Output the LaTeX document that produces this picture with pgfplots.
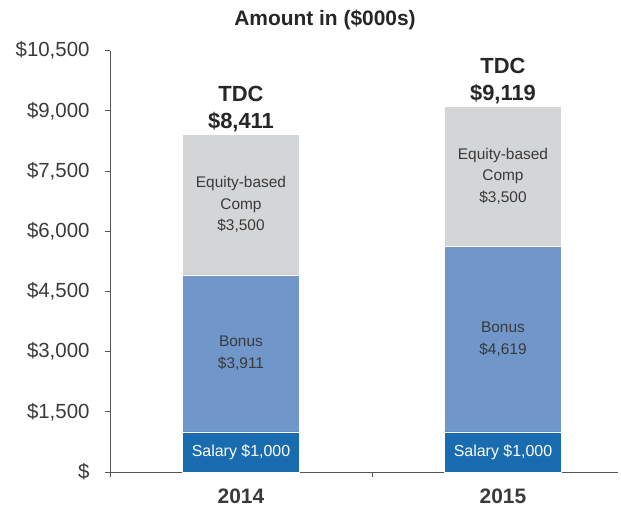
\documentclass[border=0pt]{standalone}
\usepackage{pgfplots}
\pgfplotsset{compat=1.18}
\usepackage{fontspec}
\setmainfont{Liberation Sans}
\usetikzlibrary{calc}
\definecolor{salary}{HTML}{1A6CB0}
\definecolor{bonus}{HTML}{7096CA}
\definecolor{equity}{HTML}{D4D5D7}
\definecolor{txt}{HTML}{3A3A3A}
\definecolor{axcol}{HTML}{555555}
\begin{document}
\begin{tikzpicture}
\begin{axis}[name=ax, scale only axis, width=508bp, height=421.4bp,
  xmin=-0.5, xmax=1.439, ymin=0, ymax=10500,
  ybar stacked, bar width=117bp,
  axis x line=bottom, axis y line=left,
  axis line style={-, draw=axcol, line width=0.9pt},
  scaled y ticks=false,
  ytick={0,1500,3000,4500,6000,7500,9000,10500},
  yticklabels={\$,{\$1,500},{\$3,000},{\$4,500},{\$6,000},{\$7,500},{\$9,000},{\$10,500}},
  xtick={-0.5,0.5,1.5}, xticklabels={},
  extra x ticks={0,1}, extra x tick labels={2014,2015},
  extra x tick style={major tick length=0pt, tick label style={font=\fontsize{21}{24}\selectfont\bfseries, text=txt, yshift=-13bp}},
  tick align=outside, major tick length=5bp,
  tick style={draw=axcol, line width=0.9pt},
  y tick label style={font=\fontsize{20.5}{24}\selectfont, text=txt, xshift=-12bp},
  clip=false,
]
\addplot[fill=salary, draw=white, line width=0.6pt] coordinates {(0,1000) (1,1000)};
\addplot[fill=bonus, draw=white, line width=0.6pt] coordinates {(0,3911) (1,4619)};
\addplot[fill=equity, draw=white, line width=0.6pt] coordinates {(0,3500) (1,3500)};
\coordinate (s0) at (axis cs:0,500);
\coordinate (s1) at (axis cs:1,500);
\coordinate (b0) at (axis cs:0,2955.5);
\coordinate (b1) at (axis cs:1,3309.5);
\coordinate (e0) at (axis cs:0,6661);
\coordinate (e1) at (axis cs:1,7369);
\coordinate (t0) at (axis cs:0,8411);
\coordinate (t1) at (axis cs:1,9119);
\end{axis}
\node[text=white, font=\fontsize{16}{19}\selectfont] at (s0) {Salary \$1,000};
\node[text=white, font=\fontsize{16}{19}\selectfont] at (s1) {Salary \$1,000};
\node[text=txt, align=center, font=\fontsize{15.5}{22.5}\selectfont] at (b0) {Bonus\\\$3,911};
\node[text=txt, align=center, font=\fontsize{15.5}{22.5}\selectfont] at (b1) {Bonus\\\$4,619};
\node[text=txt, align=center, font=\fontsize{15.5}{21.5}\selectfont] at (e0) {Equity-based\\Comp\\\$3,500};
\node[text=txt, align=center, font=\fontsize{15.5}{21.5}\selectfont] at (e1) {Equity-based\\Comp\\\$3,500};
\node[text=black!85, align=center, anchor=south, inner sep=2bp, font=\fontsize{22}{27}\selectfont\bfseries] at (t0) {TDC\\\$8,411};
\node[text=black!85, align=center, anchor=south, inner sep=2bp, font=\fontsize{22}{27}\selectfont\bfseries] at (t1) {TDC\\\$9,119};
\node[text=black!85, font=\fontsize{21}{24}\selectfont\bfseries] at ($(ax.south west)+(215bp,452bp)$) {Amount in (\$000s)};
\pgfresetboundingbox
\path[use as bounding box] ($(ax.south west)+(-110bp,-37bp)$) rectangle ++(621bp,509bp);
\end{tikzpicture}
\end{document}
